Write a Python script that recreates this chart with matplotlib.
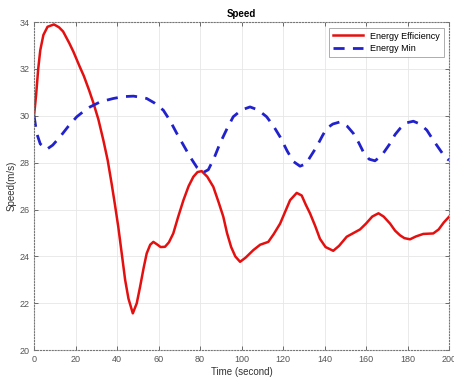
import numpy as np
import matplotlib
matplotlib.use('Agg')
import matplotlib.pyplot as plt

plt.rcParams['font.family'] = ['Liberation Sans', 'DejaVu Sans']

# values
t_eff = [0, 1, 2, 3, 4.5, 6.5, 9.6, 12, 14, 17, 19, 22, 24, 26.5, 28.6, 31, 33.4, 35.5,
         37.4, 39, 40.6, 42.3, 43.9, 45.5, 47.6, 49.5, 51.1, 52.8, 54.3, 56, 57.5, 59.5,
         61, 63.1, 65, 67.1, 69.5, 72, 74.5, 76.8, 78.8, 80.8, 83.5, 86.4, 89, 91.2, 93,
         95, 97, 99.3, 102, 105.7, 109, 112.9, 115.5, 118.6, 121, 123.4, 126.6, 129, 131,
         133, 135.5, 137.8, 140.5, 144.2, 147, 150.7, 154, 157.1, 160, 163, 166, 168.5,
         171.6, 174, 176.4, 178.5, 181.2, 184, 187.6, 192.4, 195, 197.5, 200]
v_eff = [30.0, 30.9, 32.0, 32.8, 33.45, 33.8, 33.9, 33.78, 33.6, 33.1, 32.73, 32.1, 31.7,
         31.1, 30.55, 29.85, 28.96, 28.1, 27.1, 26.2, 25.26, 24.1, 23.0, 22.2, 21.57, 22.0,
         22.7, 23.5, 24.13, 24.5, 24.62, 24.5, 24.4, 24.41, 24.6, 24.98, 25.7, 26.4, 27.0,
         27.4, 27.6, 27.64, 27.4, 26.97, 26.3, 25.7, 25.0, 24.4, 24.0, 23.77, 23.95, 24.27,
         24.5, 24.62, 24.95, 25.4, 25.9, 26.4, 26.71, 26.6, 26.2, 25.84, 25.3, 24.75, 24.4,
         24.24, 24.45, 24.84, 25.0, 25.15, 25.4, 25.7, 25.84, 25.7, 25.4, 25.1, 24.9, 24.78,
         24.73, 24.85, 24.96, 24.98, 25.15, 25.45, 25.69]

t_min = [0, 1.3, 3, 6.1, 9, 12.5, 16.5, 20.6, 24, 27, 32, 38.2, 43, 47.9, 51, 54.3, 58,
         62.3, 65.5, 68.8, 72, 75.2, 78.5, 81.5, 84, 86.8, 89.6, 93, 96, 100, 104.1, 108,
         112.1, 115.5, 118.6, 122, 125, 128.2, 131, 133.5, 136.2, 139, 141, 144, 147.5,
         151, 153.9, 156.5, 158.7, 161.5, 164.3, 167.5, 171.6, 174, 176.4, 179.5, 182.8,
         186, 189.3, 192.5, 195.7, 198, 200]
v_min = [30.0, 29.25, 28.8, 28.57, 28.75, 29.1, 29.55, 29.96, 30.2, 30.38, 30.6, 30.74,
         30.82, 30.84, 30.8, 30.74, 30.55, 30.24, 29.8, 29.25, 28.75, 28.25, 27.8, 27.58,
         27.7, 28.2, 28.82, 29.45, 29.96, 30.25, 30.38, 30.25, 29.96, 29.55, 29.1, 28.5,
         28.05, 27.85, 27.95, 28.3, 28.68, 29.15, 29.46, 29.65, 29.74, 29.55, 29.25, 28.85,
         28.46, 28.15, 28.08, 28.3, 28.82, 29.2, 29.46, 29.7, 29.77, 29.65, 29.39, 28.95,
         28.54, 28.25, 28.1]

x_ticks = np.arange(0, 201, 20)
y_ticks = np.arange(20, 35, 2)

fig = plt.figure(figsize=(4.54, 3.81), dpi=100)
ax = fig.add_axes([0.075, 0.081, 0.914, 0.861])

ax.plot(t_eff, v_eff, '-', color='#e41010', lw=1.8, label='Energy Efficiency')
ax.plot(t_min, v_min, '--', color='#2222cc', lw=2.0, dashes=(4, 3), label='Energy Min')

ax.set_xlim(0, 200)
ax.set_ylim(20, 34)
ax.set_xticks(x_ticks)
ax.set_yticks(y_ticks)
ax.tick_params(direction='in', length=3, width=0.6, labelsize=6.5, colors='#555555',
               top=True, right=True)
ax.grid(True, color='#e6e6e6', lw=0.6)
for s in ax.spines.values():
    s.set_linestyle(':')
    s.set_color('#777777')
    s.set_linewidth(0.8)

ax.set_title('Speed', fontsize=7, fontweight='bold', pad=4)
ax.set_xlabel('Time (second)', fontsize=7, labelpad=2, color='#333333')
ax.set_ylabel('Speed(m/s)', fontsize=7, labelpad=2, color='#333333')

leg = ax.legend(loc='upper right', fontsize=6.5, handlelength=3.3, fancybox=False,
                borderaxespad=0.6, labelspacing=0.35, borderpad=0.45)
leg.get_frame().set_edgecolor('#888888')
leg.get_frame().set_linewidth(0.6)

plt.savefig('out.png', dpi=100)
